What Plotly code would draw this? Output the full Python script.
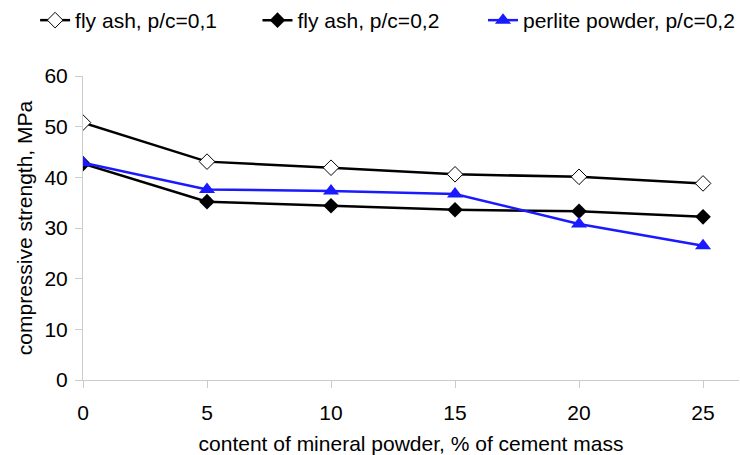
import plotly.graph_objects as go

x_vals = [0, 5, 10, 15, 20, 25]
fly_ash_01 = [50.8, 43.1, 41.9, 40.6, 40.1, 38.8]
fly_ash_02 = [42.7, 35.2, 34.4, 33.6, 33.3, 32.2]
perlite_02 = [42.9, 37.6, 37.3, 36.7, 30.8, 26.5]

names = ["fly ash, p/c=0,1", "fly ash, p/c=0,2", "perlite powder, p/c=0,2"]
FONT = "Liberation Sans, Arial, sans-serif"

fig = go.Figure()
fig.add_trace(go.Scatter(x=x_vals, y=fly_ash_01, name=names[0], mode="lines+markers",
                         legend="legend",
                         line=dict(color="black", width=2.5),
                         marker=dict(symbol="diamond", size=12, color="white",
                                     line=dict(color="black", width=1))))
fig.add_trace(go.Scatter(x=x_vals, y=fly_ash_02, name=names[1], mode="lines+markers",
                         legend="legend2",
                         line=dict(color="black", width=2.5),
                         marker=dict(symbol="diamond", size=12, color="black")))
fig.add_trace(go.Scatter(x=x_vals, y=perlite_02, name=names[2], mode="lines+markers",
                         legend="legend3",
                         line=dict(color="#1a1aff", width=2.5),
                         marker=dict(symbol="triangle-up", size=14, color="#1a1aff")))

leg_common = dict(orientation="h", xanchor="left", y=1.183, yanchor="middle",
                  font=dict(family=FONT, size=21), itemwidth=30,
                  bgcolor="rgba(0,0,0,0)")

fig.update_layout(
    width=740, height=455,
    margin=dict(l=83, r=0, t=74, b=75),
    paper_bgcolor="white", plot_bgcolor="white",
    font=dict(family=FONT, size=21, color="black"),
    showlegend=True,
    legend=dict(x=-0.073, **leg_common),
    legend2=dict(x=0.266, **leg_common),
    legend3=dict(x=0.610, **leg_common),
    xaxis=dict(range=[0, 26.45], tickvals=[0, 5, 10, 15, 20, 25], showgrid=False,
               zeroline=False, showline=True, linecolor="#cccccc", linewidth=1,
               ticks="outside", ticklen=7, tickcolor="#cccccc",
               ticklabelstandoff=7,
               tickfont=dict(family=FONT, size=21),
               title=dict(text="content of mineral powder, % of cement mass",
                          font=dict(family=FONT, size=21), standoff=13)),
    yaxis=dict(range=[0, 60], tickvals=[0, 10, 20, 30, 40, 50, 60], showgrid=False,
               zeroline=False, showline=True, linecolor="#cccccc", linewidth=1,
               ticks="outside", ticklen=7, tickcolor="#cccccc",
               ticklabelstandoff=3,
               tickfont=dict(family=FONT, size=21),
               title=dict(text="compressive strength, MPa",
                          font=dict(family=FONT, size=21), standoff=6)),
)

fig.write_html("out.html")
